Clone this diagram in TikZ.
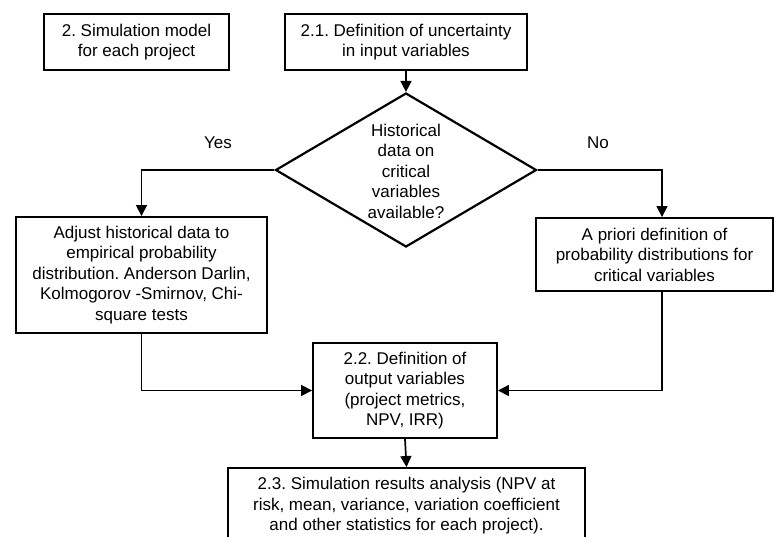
\documentclass[tikz,border=0pt]{standalone}
\usepackage{fontspec}
\setmainfont{Liberation Sans}
\frenchspacing
\usetikzlibrary{arrows.meta, shapes.geometric}
\tikzset{box/.style={draw, line width=1.9pt, inner sep=0pt, align=center}}
\tikzset{decision/.style={diamond, draw, line width=2.2pt, inner sep=0pt}}
\tikzset{flow/.style={line width=1.7pt, -{Triangle[length=11pt, width=11pt]}}}

\begin{document}
\begin{tikzpicture}[x=1pt, y=-1pt, font=\fontsize{17pt}{20.5pt}\selectfont]
    \useasboundingbox (0,0) rectangle (774,537);
    \clip (0,0) rectangle (774,537);
    % top row
    \node[box, minimum width=185pt, minimum height=56pt] (model) at (136.5,42) {2. Simulation model\\for each project};
    \node[box, minimum width=242pt, minimum height=56pt] (uncert) at (406,42) {2.1. Definition of uncertainty\\in input variables};
    % decision
    \node[decision, minimum width=261pt, minimum height=154pt] (hist) at (406,170) {};
    \node[align=center] (histtext) at (406,171) {Historical\\data on\\critical\\variables\\available?};
    \node (yes) at (218,143) {Yes};
    \node (no) at (598,143) {No};
    % branches
    \node[box, minimum width=251pt, minimum height=116pt] (adjust) at (141.5,275) {Adjust historical data to\\empirical probability\\distribution. Anderson Darlin,\\Kolmogorov -Smirnov, Chi-\\square tests};
    \node[box, minimum width=237pt, minimum height=73pt] (apriori) at (654.5,254.5) {A priori definition of\\probability distributions for\\critical variables};
    % outputs
    \node[box, minimum width=184pt, minimum height=95pt] (output) at (405,390.5) {2.2. Definition of\\output variables\\(project metrics,\\NPV, IRR)};
    \node[box, minimum width=357pt, minimum height=76pt] (results) at (406.5,506) {2.3. Simulation results analysis (NPV at\\risk, mean, variance, variation coefficient\\and other statistics for each project).};
    % connectors
    \draw[flow] (uncert.south) -- (hist.north);
    \draw[flow] (hist.west) -| (adjust.north);
    \draw[flow] (hist.east) -| ([xshift=7.5pt]apriori.north);
    \draw[flow] (adjust.south) |- (output.west);
    \draw[flow] ([xshift=7.5pt]apriori.south) |- (output.east);
    \draw[flow] (output.south) -- (results.north);
\end{tikzpicture}
\end{document}
